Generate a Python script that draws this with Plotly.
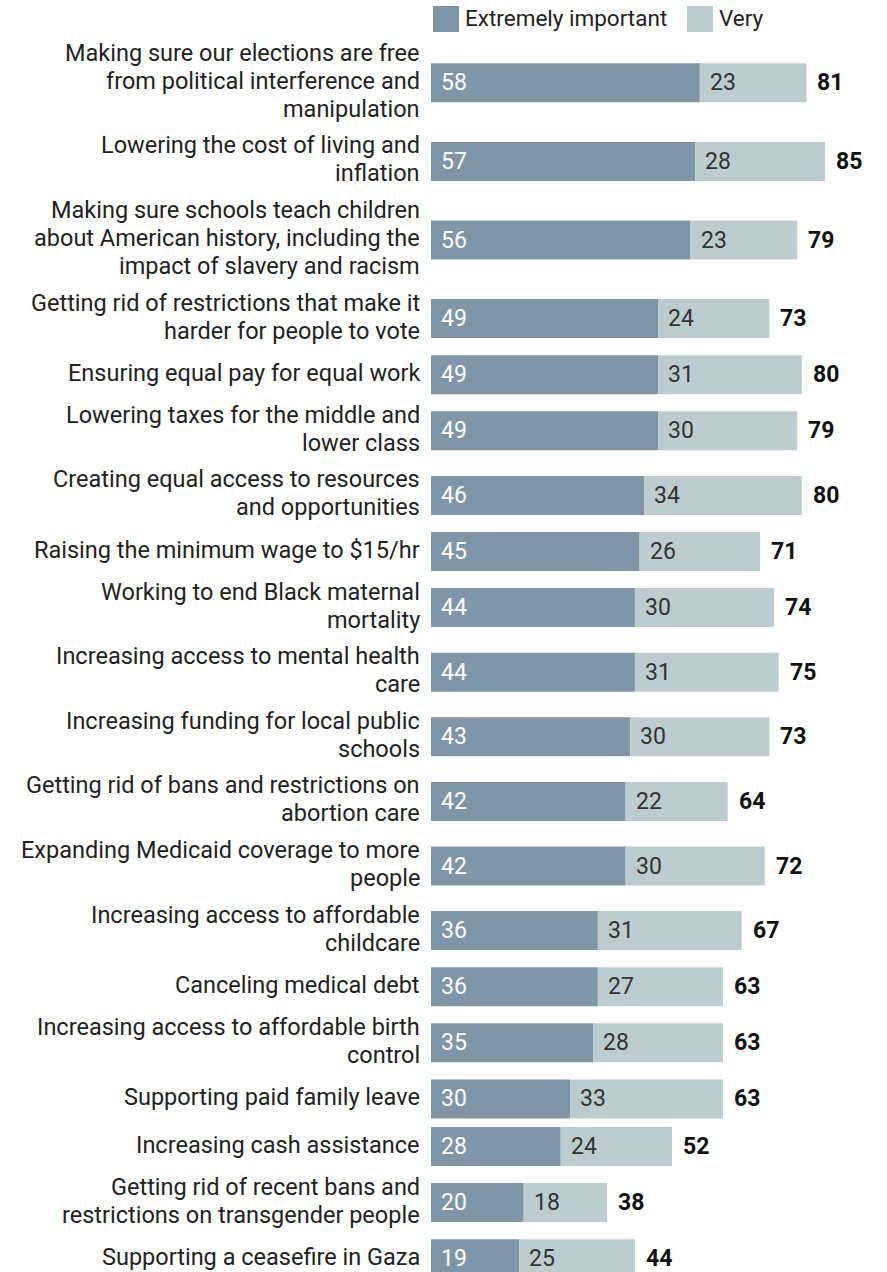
import plotly.graph_objects as go

# Survey items, top to bottom
issues = [
    "Making sure our elections are free<br>from political interference and<br>manipulation",
    "Lowering the cost of living and<br>inflation",
    "Making sure schools teach children<br>about American history, including the<br>impact of slavery and racism",
    "Getting rid of restrictions that make it<br>harder for people to vote",
    "Ensuring equal pay for equal work",
    "Lowering taxes for the middle and<br>lower class",
    "Creating equal access to resources<br>and opportunities",
    "Raising the minimum wage to $15/hr",
    "Working to end Black maternal<br>mortality",
    "Increasing access to mental health<br>care",
    "Increasing funding for local public<br>schools",
    "Getting rid of bans and restrictions on<br>abortion care",
    "Expanding Medicaid coverage to more<br>people",
    "Increasing access to affordable<br>childcare",
    "Canceling medical debt",
    "Increasing access to affordable birth<br>control",
    "Supporting paid family leave",
    "Increasing cash assistance",
    "Getting rid of recent bans and<br>restrictions on transgender people",
    "Supporting a ceasefire in Gaza",
]
extremely = [58, 57, 56, 49, 49, 49, 46, 45, 44, 44, 43, 42, 42, 36, 36, 35, 30, 28, 20, 19]
very = [23, 28, 23, 24, 31, 30, 34, 26, 30, 31, 30, 22, 30, 31, 27, 28, 33, 24, 18, 25]
totals = [81, 85, 79, 73, 80, 79, 80, 71, 74, 75, 73, 64, 72, 67, 63, 63, 63, 52, 38, 44]

series_names = ["Extremely important", "Very"]

DARK = "#7f96a9"
LIGHT = "#bccdcf"
INK = "#222222"
FONT = "Roboto"
LABEL_SIZE = 23.5
VALUE_SIZE = 23

W, H = 887, 1272
PLOT_LEFT = 431          # px where bars begin
PX_PER_UNIT = 4.635      # horizontal scale
BAR_H = 39               # bar thickness in px
LINE_H = 28              # label line height in px
ROW_GAP = 8.6
FIRST_TOP = 36.5

# Row layout: each row is as tall as its label (or bar) plus a gap
centers = []
top = FIRST_TOP
for label in issues:
    n_lines = label.count("<br>") + 1
    h = max(BAR_H, LINE_H * n_lines) + ROW_GAP
    centers.append(top + h / 2)
    top += h

x_max = (W - PLOT_LEFT) / PX_PER_UNIT

fig = go.Figure()
fig.add_trace(go.Bar(
    y=centers, x=extremely, base=0, orientation="h", width=BAR_H,
    marker=dict(color=DARK, line=dict(width=0)), name=series_names[0],
    hoverinfo="skip",
))
fig.add_trace(go.Bar(
    y=centers, x=very, base=extremely, orientation="h", width=BAR_H,
    marker=dict(color=LIGHT, line=dict(width=0)), name=series_names[1],
    hoverinfo="skip",
))

annotations = []
for yc, label, e, v, t in zip(centers, issues, extremely, very, totals):
    # Category label, one annotation per line for tighter leading
    lines = label.split("<br>")
    n = len(lines)
    for i, line in enumerate(lines):
        annotations.append(dict(
            x=0, y=yc, xref="x", yref="y", text=line, showarrow=False,
            xanchor="right", yanchor="middle", align="right", xshift=-9,
            yshift=2 - (i - (n - 1) / 2) * LINE_H,
            font=dict(family=FONT, size=LABEL_SIZE, color=INK),
        ))
    annotations.append(dict(
        x=0, y=yc, xref="x", yref="y", text=str(e), showarrow=False,
        xanchor="left", yanchor="middle", xshift=8,
        font=dict(family=FONT, size=VALUE_SIZE, color="white"),
    ))
    annotations.append(dict(
        x=e, y=yc, xref="x", yref="y", text=str(v), showarrow=False,
        xanchor="left", yanchor="middle", xshift=8,
        font=dict(family=FONT, size=VALUE_SIZE, color="#333333"),
    ))
    annotations.append(dict(
        x=e + v, y=yc, xref="x", yref="y", text="<b>%d</b>" % t, showarrow=False,
        xanchor="left", yanchor="middle", xshift=9,
        font=dict(family=FONT, size=VALUE_SIZE, color="#111111"),
    ))

# Legend drawn as swatches + text along the top
def px_x(p):
    return p / W

def px_y(p):
    return 1 - p / H

shapes = []
legend_items = [(433, DARK, series_names[0]), (687, LIGHT, series_names[1])]
for x0, color, name in legend_items:
    shapes.append(dict(
        type="rect", xref="paper", yref="paper",
        x0=px_x(x0), x1=px_x(x0 + 26), y0=px_y(32), y1=px_y(6),
        fillcolor=color, line=dict(width=0),
    ))
    annotations.append(dict(
        x=px_x(x0 + 30), y=px_y(18), xref="paper", yref="paper", text=name,
        showarrow=False, xanchor="left", yanchor="middle",
        font=dict(family=FONT, size=22.5, color=INK),
    ))

fig.update_layout(
    width=W, height=H,
    margin=dict(l=0, r=0, t=0, b=0, pad=0),
    paper_bgcolor="white", plot_bgcolor="white",
    barmode="overlay", showlegend=False,
    xaxis=dict(domain=[PLOT_LEFT / W, 1], range=[0, x_max], visible=False, fixedrange=True),
    yaxis=dict(range=[H, 0], visible=False, fixedrange=True),
    annotations=annotations, shapes=shapes,
    font=dict(family=FONT),
)

fig.write_html("out.html", config={"displayModeBar": False})
